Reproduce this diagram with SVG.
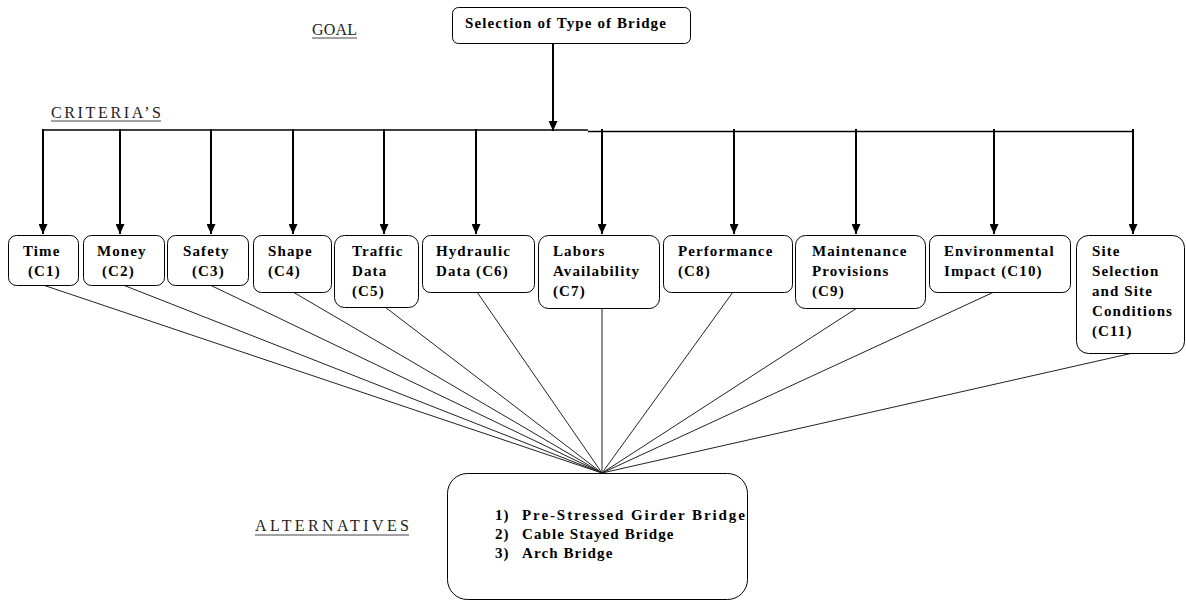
<svg xmlns="http://www.w3.org/2000/svg" width="1186" height="601" viewBox="0 0 1186 601">
<defs>
<style>
.box{fill:#fff;stroke:#000;stroke-width:1}
.t{font-family:"Liberation Serif","DejaVu Serif","Times New Roman",serif;font-weight:bold;font-size:15px;letter-spacing:1.1px;fill:#000}
.lbl{font-family:"Liberation Serif","DejaVu Serif","Times New Roman",serif;font-size:16px;fill:#222}
.ul{stroke:#444;stroke-width:1}
.arr{stroke:#000;stroke-width:2;fill:none}
.bus{stroke:#000;stroke-width:1.5;fill:none}
.fan{stroke:#222;stroke-width:1;fill:none}
</style>
<marker id="ah" viewBox="0 0 10 9" refX="10" refY="4.5" markerWidth="10" markerHeight="9" markerUnits="userSpaceOnUse" orient="auto">
<path d="M0,0 L10,4.5 L0,9 Z" fill="#000"/>
</marker>
</defs>
<rect width="1186" height="601" fill="#fff"/>

<g id="labels">
<text class="lbl" x="312" y="35" textLength="45" lengthAdjust="spacing">GOAL</text>
<line class="ul" x1="312" y1="38" x2="357" y2="38"/>
<text class="lbl" x="51" y="118" textLength="110" lengthAdjust="spacing">CRITERIA’S</text>
<line class="ul" x1="51" y1="121" x2="161" y2="121"/>
<text class="lbl" x="255" y="531" textLength="154" lengthAdjust="spacing">ALTERNATIVES</text>
<line class="ul" x1="255" y1="535" x2="409" y2="535"/>
</g>

<g id="connectors">
<line class="arr" x1="553" y1="43" x2="553" y2="131" marker-end="url(#ah)"/>
<line class="bus" x1="43" y1="130" x2="588" y2="130"/>
<line class="bus" x1="588" y1="131.5" x2="1134" y2="131.5"/>
<line class="arr" x1="43" y1="129" x2="43" y2="234" marker-end="url(#ah)"/>
<line class="arr" x1="120" y1="129" x2="120" y2="234" marker-end="url(#ah)"/>
<line class="arr" x1="211" y1="129" x2="211" y2="234" marker-end="url(#ah)"/>
<line class="arr" x1="293" y1="129" x2="293" y2="234" marker-end="url(#ah)"/>
<line class="arr" x1="384" y1="129" x2="384" y2="234" marker-end="url(#ah)"/>
<line class="arr" x1="476" y1="129" x2="476" y2="234" marker-end="url(#ah)"/>
<line class="arr" x1="602" y1="129" x2="602" y2="234" marker-end="url(#ah)"/>
<line class="arr" x1="734" y1="129" x2="734" y2="234" marker-end="url(#ah)"/>
<line class="arr" x1="856" y1="129" x2="856" y2="234" marker-end="url(#ah)"/>
<line class="arr" x1="994" y1="129" x2="994" y2="234" marker-end="url(#ah)"/>
<line class="arr" x1="1133" y1="129" x2="1133" y2="234" marker-end="url(#ah)"/>
<line class="fan" x1="43" y1="285" x2="602" y2="473"/>
<line class="fan" x1="123" y1="285" x2="602" y2="473"/>
<line class="fan" x1="210" y1="285" x2="602" y2="473"/>
<line class="fan" x1="293" y1="292" x2="602" y2="473"/>
<line class="fan" x1="385" y1="307" x2="602" y2="473"/>
<line class="fan" x1="477" y1="292" x2="602" y2="473"/>
<line class="fan" x1="602" y1="308" x2="602" y2="473"/>
<line class="fan" x1="733" y1="292" x2="602" y2="473"/>
<line class="fan" x1="857" y1="308" x2="602" y2="473"/>
<line class="fan" x1="994" y1="292" x2="602" y2="473"/>
<line class="fan" x1="1133" y1="353" x2="602" y2="473"/>
</g>

<g id="goal">
<rect class="box" x="452.5" y="7.5" width="238" height="36" rx="6"/>
<text class="t" x="465" y="28" textLength="202" lengthAdjust="spacing">Selection of Type of Bridge</text>
</g>

<g id="c1">
<rect class="box" x="8.5" y="235.5" width="70" height="50" rx="8"/>
<text class="t" x="23" y="256">Time</text>
<text class="t" x="28" y="276">(C1)</text>
</g>
<g id="c2">
<rect class="box" x="83.5" y="235.5" width="81" height="50" rx="8"/>
<text class="t" x="97" y="256">Money</text>
<text class="t" x="102" y="276">(C2)</text>
</g>
<g id="c3">
<rect class="box" x="167.5" y="235.5" width="81" height="50" rx="8"/>
<text class="t" x="183" y="256">Safety</text>
<text class="t" x="192" y="276">(C3)</text>
</g>
<g id="c4">
<rect class="box" x="253.5" y="235.5" width="78" height="57" rx="8"/>
<text class="t" x="268" y="256">Shape</text>
<text class="t" x="268" y="276">(C4)</text>
</g>
<g id="c5">
<rect class="box" x="334.5" y="235.5" width="84" height="72" rx="10"/>
<text class="t" x="352" y="256">Traffic</text>
<text class="t" x="352" y="276">Data</text>
<text class="t" x="352" y="296">(C5)</text>
</g>
<g id="c6">
<rect class="box" x="422.5" y="235.5" width="112" height="57" rx="8"/>
<text class="t" x="436" y="256">Hydraulic</text>
<text class="t" x="436" y="276">Data (C6)</text>
</g>
<g id="c7">
<rect class="box" x="538.5" y="235.5" width="121" height="73" rx="10"/>
<text class="t" x="553" y="256">Labors</text>
<text class="t" x="553" y="276">Availability</text>
<text class="t" x="553" y="296">(C7)</text>
</g>
<g id="c8">
<rect class="box" x="663.5" y="235.5" width="129" height="57" rx="8"/>
<text class="t" x="678" y="256">Performance</text>
<text class="t" x="678" y="276">(C8)</text>
</g>
<g id="c9">
<rect class="box" x="795.5" y="235.5" width="130" height="73" rx="10"/>
<text class="t" x="812" y="256">Maintenance</text>
<text class="t" x="812" y="276">Provisions</text>
<text class="t" x="812" y="296">(C9)</text>
</g>
<g id="c10">
<rect class="box" x="929.5" y="235.5" width="141" height="57" rx="8"/>
<text class="t" x="944" y="256">Environmental</text>
<text class="t" x="944" y="276">Impact (C10)</text>
</g>
<g id="c11">
<rect class="box" x="1076.5" y="235.5" width="108" height="118" rx="12"/>
<text class="t" x="1092" y="256">Site</text>
<text class="t" x="1092" y="276">Selection</text>
<text class="t" x="1092" y="296">and Site</text>
<text class="t" x="1092" y="316">Conditions</text>
<text class="t" x="1092" y="336">(C11)</text>
</g>

<g id="alternatives">
<rect class="box" x="447.5" y="473.5" width="300" height="126" rx="20"/>
<text class="t" x="495" y="520">1)</text>
<text class="t" x="522" y="520" textLength="224" lengthAdjust="spacing">Pre-Stressed Girder Bridge</text>
<text class="t" x="495" y="539">2)</text>
<text class="t" x="522" y="539">Cable Stayed Bridge</text>
<text class="t" x="495" y="558">3)</text>
<text class="t" x="522" y="558">Arch Bridge</text>
</g>
</svg>
